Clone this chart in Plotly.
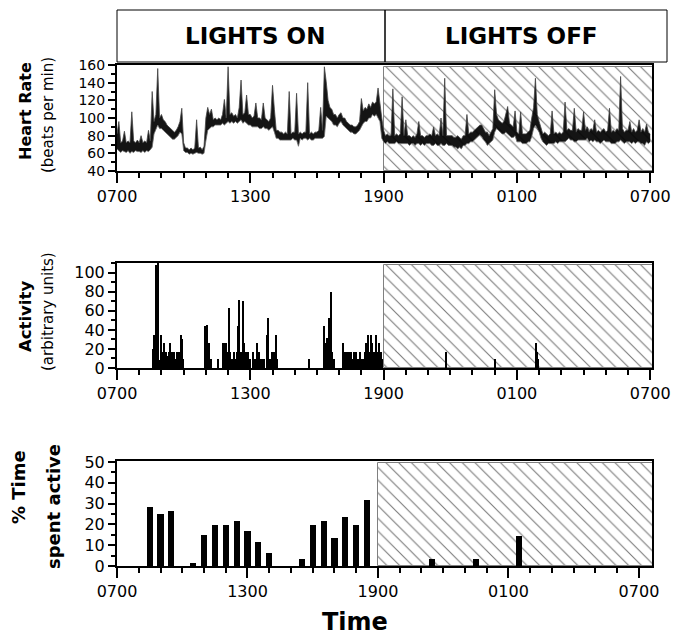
import numpy as np
import plotly.graph_objects as go

W, H = 689, 643
PAGE_OFF = 8  # default body margin of the html page

# ---------------- data ----------------
tick_hours = [0, 6, 12, 18, 24]
tick_labels = ['0700', '1300', '1900', '0100', '0700']
minor_hours = list(range(25))
lights_off_start = 12
lights_off_end = 25

# Heart rate (beats per min): upper and lower edge of the dense trace,
# 5-minute bins from 0700, one row per hour
hr_high_rows = [
    [82, 96, 72, 74, 85, 72, 74, 72, 107, 74, 72, 75],        # 0700
    [72, 80, 72, 74, 72, 86, 74, 130, 96, 104, 156, 100],     # 0800
    [104, 98, 96, 92, 90, 88, 86, 84, 86, 90, 96, 111],       # 0900
    [72, 66, 66, 64, 66, 64, 66, 98, 66, 67, 64, 68],         # 1000
    [100, 112, 104, 110, 98, 100, 98, 100, 98, 104, 121, 100],  # 1100
    [158, 104, 106, 102, 104, 100, 112, 143, 104, 106, 126, 104],  # 1200
    [104, 100, 102, 117, 100, 100, 98, 117, 100, 98, 96, 100],  # 1300
    [137, 110, 86, 86, 84, 84, 82, 84, 82, 130, 82, 84],      # 1400
    [84, 128, 82, 84, 82, 84, 84, 140, 82, 84, 82, 84],       # 1500
    [84, 86, 112, 86, 158, 141, 120, 112, 110, 104, 104, 100],  # 1600
    [104, 106, 100, 100, 96, 94, 92, 92, 90, 90, 92, 96],     # 1700
    [122, 108, 112, 110, 116, 112, 118, 116, 118, 134, 114, 100],  # 1800
    [86, 80, 82, 80, 80, 133, 80, 82, 80, 82, 124, 80],       # 1900
    [98, 80, 80, 78, 80, 78, 82, 96, 80, 80, 78, 80],         # 2000
    [80, 82, 80, 90, 80, 82, 80, 100, 80, 145, 80, 80],       # 2100
    [80, 80, 78, 78, 80, 78, 76, 80, 80, 104, 82, 84],        # 2200
    [84, 86, 88, 90, 92, 92, 88, 84, 84, 80, 84, 88],         # 2300
    [132, 104, 98, 96, 94, 96, 104, 113, 94, 92, 90, 108],    # 0000
    [84, 82, 107, 82, 82, 82, 84, 86, 100, 112, 145, 104],    # 0100
    [96, 88, 82, 84, 82, 80, 82, 108, 82, 84, 82, 84],        # 0200
    [82, 84, 118, 86, 88, 86, 86, 111, 84, 88, 86, 86],       # 0300
    [107, 86, 90, 84, 88, 86, 98, 84, 86, 84, 86, 88],        # 0400
    [84, 86, 111, 84, 86, 84, 88, 86, 147, 88, 84, 86],       # 0500
    [86, 96, 84, 88, 84, 86, 98, 84, 88, 84, 93, 84],         # 0600
]
hr_low_rows = [
    [65, 63, 61, 63, 62, 61, 63, 60, 62, 61, 63, 62],         # 0700
    [62, 61, 63, 61, 63, 62, 64, 67, 82, 88, 92, 88],         # 0800
    [88, 86, 84, 82, 80, 78, 76, 76, 78, 80, 84, 82],         # 0900
    [63, 61, 61, 59, 60, 59, 60, 61, 60, 60, 59, 60],         # 1000
    [74, 86, 88, 90, 90, 92, 92, 92, 92, 94, 92, 94],         # 1100
    [96, 94, 96, 94, 96, 94, 96, 98, 94, 96, 94, 92],         # 1200
    [92, 90, 90, 90, 90, 88, 88, 90, 88, 88, 86, 88],         # 1300
    [90, 84, 77, 77, 75, 75, 75, 75, 75, 75, 75, 77],         # 1400
    [75, 75, 68, 77, 75, 77, 77, 75, 77, 75, 75, 77],         # 1500
    [77, 77, 77, 77, 79, 102, 100, 98, 96, 92, 92, 90],       # 1600
    [94, 96, 92, 90, 88, 86, 84, 84, 82, 82, 84, 86],         # 1700
    [90, 94, 96, 96, 100, 100, 104, 102, 104, 100, 96, 77],   # 1800
    [73, 71, 73, 71, 71, 71, 71, 73, 71, 71, 71, 71],         # 1900
    [71, 71, 69, 71, 71, 69, 71, 71, 69, 71, 69, 71],         # 2000
    [71, 71, 69, 69, 71, 69, 69, 71, 69, 69, 71, 69],         # 2100
    [69, 69, 67, 67, 65, 67, 65, 69, 69, 71, 71, 73],         # 2200
    [73, 75, 77, 79, 81, 79, 75, 73, 69, 71, 73, 75],         # 2300
    [84, 88, 86, 84, 82, 82, 84, 82, 80, 78, 78, 80],         # 0000
    [73, 73, 73, 71, 71, 71, 73, 73, 79, 88, 92, 88],         # 0100
    [84, 77, 73, 71, 69, 71, 71, 71, 71, 73, 71, 73],         # 0200
    [73, 73, 73, 75, 77, 75, 75, 73, 73, 75, 75, 75],         # 0300
    [75, 75, 77, 73, 75, 73, 75, 73, 73, 71, 73, 75],         # 0400
    [73, 73, 73, 71, 71, 71, 73, 73, 75, 73, 71, 73],         # 0500
    [73, 73, 71, 73, 71, 73, 73, 71, 71, 69, 73, 71],         # 0600
]
hr_high_last = [82]
hr_low_last = [73]
hr_high = [v for row in hr_high_rows for v in row] + hr_high_last
hr_low = [v for row in hr_low_rows for v in row] + hr_low_last
hr_time = np.arange(len(hr_high)) / 12.0

# Activity (arbitrary units): hours after 0700, value
act_time = [
    1.60, 1.64, 1.67, 1.70, 1.72, 1.74, 1.76, 1.78, 1.80, 1.83, 1.86, 1.90,
    1.98, 2.05, 2.08, 2.12, 2.14, 2.17, 2.20, 2.24, 2.28, 2.32, 2.36, 2.40, 2.44,
    2.48, 2.52, 2.56, 2.60, 2.64, 2.68, 2.72, 2.76, 2.80, 2.84, 2.88, 2.92, 2.95,
    3.97, 4.00, 4.03, 4.06, 4.09, 4.12, 4.15, 4.18, 4.22,
    4.54,
    4.75, 4.78, 4.81, 4.84, 4.87, 4.90, 4.93, 4.96, 4.99, 5.02, 5.05, 5.08, 5.11,
    5.24, 5.28, 5.32, 5.36, 5.40, 5.44, 5.47, 5.50, 5.53, 5.56,
    5.60, 5.63, 5.68, 5.72, 5.75, 5.78, 5.81, 5.84, 5.87, 5.90, 5.93, 5.97,
    6.10, 6.14, 6.20, 6.28, 6.32, 6.36, 6.40, 6.44, 6.50, 6.56, 6.62,
    6.76, 6.81, 6.84, 6.88, 6.94, 6.98, 7.02, 7.06, 7.14, 7.17, 7.20,
    8.62,
    9.33, 9.37, 9.41, 9.45, 9.50, 9.54, 9.57, 9.60, 9.63, 9.66, 9.70, 9.74, 9.78,
    10.15, 10.20, 10.25, 10.30, 10.35, 10.40, 10.45, 10.50, 10.55, 10.60, 10.65,
    10.70, 10.75, 10.80, 10.85, 10.90, 10.95, 11.00, 11.05, 11.10, 11.15,
    11.22, 11.26, 11.30, 11.34, 11.38, 11.42, 11.46, 11.50, 11.54, 11.58, 11.62,
    11.66, 11.70, 11.74, 11.78, 11.82, 11.86, 11.90, 11.94,
    14.80, 17.00, 18.88, 18.92, 18.95,
]
act_val = [
    14, 20, 35, 28, 17, 12, 108, 20, 14, 110, 9, 8,
    35, 9, 17, 26, 17, 9, 17, 8, 13, 17, 9, 26, 13,
    17, 9, 17, 8, 9, 17, 9, 8, 17, 9, 35, 30, 9,
    44, 26, 20, 45, 17, 26, 13, 9, 9,
    9,
    26, 20, 26, 26, 17, 26, 13, 17, 9, 63, 9, 17, 9,
    9, 17, 8, 9, 17, 44, 9, 71, 9, 17,
    17, 9, 70, 26, 17, 9, 17, 17, 9, 17, 9, 9,
    17, 9, 9, 26, 9, 9, 17, 9, 9, 9, 9,
    35, 53, 9, 9, 9, 17, 9, 17, 35, 17, 9,
    9,
    44, 26, 17, 31, 26, 53, 31, 17, 80, 17, 9, 9, 9,
    26, 9, 17, 9, 17, 17, 9, 17, 17, 9, 17,
    9, 17, 9, 9, 9, 17, 9, 9, 9, 17,
    26, 17, 35, 9, 17, 35, 17, 26, 9, 17, 9,
    35, 17, 9, 26, 17, 9, 17, 9,
    17, 9, 26, 17, 9,
]

# % time spent active, half-hour bins (centre, hours after 0700)
pct_time = [1.5, 2.0, 2.5, 3.5, 4.0, 4.5, 5.0, 5.5, 6.0, 6.5, 7.0,
            8.5, 9.0, 9.5, 10.0, 10.5, 11.0, 11.5, 14.5, 16.5, 18.5]
pct_val = [28.5, 24.8, 26.5, 1.3, 14.7, 19.7, 19.7, 21.6, 16.7, 11.5, 6.4,
           3.4, 19.7, 21.6, 13.5, 23.4, 19.7, 31.7, 3.2, 3.2, 14.6]

# ---------------- layout helpers ----------------
FONT = 'DejaVu Sans'


def px(x):
    return (x - PAGE_OFF) / W


def py(y):
    return 1 - (y - PAGE_OFF) / H


x_dom = [px(117), px(652)]
dom1 = [py(171), py(65)]
dom2 = [py(368), py(263)]
dom3 = [py(566), py(461)]


def xaxis(anchor, rng):
    return dict(domain=x_dom, anchor=anchor, range=rng, automargin=False,
                tickmode='array', tickvals=tick_hours, ticktext=tick_labels,
                ticks='outside', ticklen=10, tickwidth=2, tickcolor='black',
                showline=True, linewidth=2, linecolor='black', mirror=True,
                showgrid=False, zeroline=False,
                tickfont=dict(family=FONT, size=16, color='black'),
                minor=dict(tickvals=minor_hours, ticks='outside', ticklen=5,
                           tickwidth=2, tickcolor='black', showgrid=False))


def yaxis(anchor, dom, rng, major, minor, fsize=16):
    return dict(domain=dom, anchor=anchor, range=rng, automargin=False,
                tickmode='array', tickvals=major,
                ticks='outside', ticklen=7, tickwidth=2, tickcolor='black',
                showline=True, linewidth=2, linecolor='black', mirror=True,
                showgrid=False, zeroline=False,
                tickfont=dict(family=FONT, size=fsize, color='black'),
                minor=dict(tickvals=minor, ticks='outside', ticklen=4,
                           tickwidth=2, tickcolor='black', showgrid=False))


def hatch(xa, ya, base, top):
    return go.Bar(x=[(lights_off_start + lights_off_end) / 2],
                  y=[top - base], base=[base],
                  width=[lights_off_end - lights_off_start],
                  xaxis=xa, yaxis=ya, showlegend=False, hoverinfo='skip',
                  marker=dict(color='white',
                              line=dict(color='#808080', width=1),
                              pattern=dict(shape='\\', size=9, solidity=0.12,
                                           fgcolor='#7a7a7a', bgcolor='white')))


fig = go.Figure()

# panel 1: heart rate (dense trace drawn as its low/high envelope)
fig.add_trace(hatch('x', 'y', 40, 158))
fig.add_trace(go.Scatter(x=hr_time, y=hr_low, mode='lines',
                         line=dict(color='#6a6a6a', width=0.8),
                         xaxis='x', yaxis='y', showlegend=False))
fig.add_trace(go.Scatter(x=hr_time, y=hr_high, mode='lines', fill='tonexty',
                         fillcolor='rgba(0,0,0,0.92)',
                         line=dict(color='#444', width=0.8),
                         xaxis='x', yaxis='y', showlegend=False))

# panel 2: activity
fig.add_trace(hatch('x2', 'y2', 0, 108.5))
fig.add_trace(go.Bar(x=act_time, y=act_val, width=0.045,
                     marker=dict(color='black', line=dict(width=0)),
                     xaxis='x2', yaxis='y2', showlegend=False))

# panel 3: % time active
fig.add_trace(hatch('x3', 'y3', 0, 49.5))
fig.add_trace(go.Bar(x=pct_time, y=pct_val, width=0.28,
                     marker=dict(color='black', line=dict(width=0)),
                     xaxis='x3', yaxis='y3', showlegend=False))

ann = []


def txt(text, x, y, size, bold=False, angle=0):
    ann.append(dict(text=('<b>%s</b>' % text) if bold else text,
                    x=px(x), y=py(y), xref='paper', yref='paper',
                    xanchor='center', yanchor='middle', showarrow=False,
                    textangle=angle,
                    font=dict(family=FONT, size=size, color='black')))


txt('LIGHTS ON', 255, 36, 23, bold=True)
txt('LIGHTS OFF', 521, 36, 23, bold=True)
txt('Heart Rate', 25, 111, 16, bold=True, angle=-90)
txt('(beats per min)', 48, 115, 15, angle=-90)
txt('Activity', 26, 317, 16.5, bold=True, angle=-90)
txt('(arbitrary units)', 48, 312, 15, angle=-90)
txt('% Time', 18, 487, 18, bold=True, angle=-90)
txt('spent active', 53, 507, 18, bold=True, angle=-90)
txt('Time', 355, 622, 24, bold=True)

shapes = [
    dict(type='rect', xref='paper', yref='paper', x0=px(117), x1=px(385),
         y0=py(62), y1=py(10), line=dict(color='black', width=1)),
    dict(type='rect', xref='paper', yref='paper', x0=px(385), x1=px(667),
         y0=py(62), y1=py(10), line=dict(color='black', width=1)),
]

fig.update_layout(
    template='none',
    width=W, height=H,
    margin=dict(l=0, r=0, t=0, b=0, pad=0, autoexpand=False),
    paper_bgcolor='white', plot_bgcolor='white', barmode='overlay',
    bargap=0, showlegend=False,
    xaxis=xaxis('y', [0, 24.08]),
    yaxis=yaxis('x', dom1, [40, 160], list(range(40, 161, 20)),
                list(range(40, 161, 10)), fsize=14),
    xaxis2=xaxis('y2', [0, 24.08]),
    yaxis2=yaxis('x2', dom2, [0, 110.3], list(range(0, 101, 20)),
                 list(range(0, 111, 10))),
    xaxis3=xaxis('y3', [0, 24.6]),
    yaxis3=yaxis('x3', dom3, [0, 50.5], list(range(0, 51, 10)),
                 list(range(0, 51, 5))),
    annotations=ann, shapes=shapes,
    font=dict(family=FONT, color='black'),
)

fig.write_html('out.html')
